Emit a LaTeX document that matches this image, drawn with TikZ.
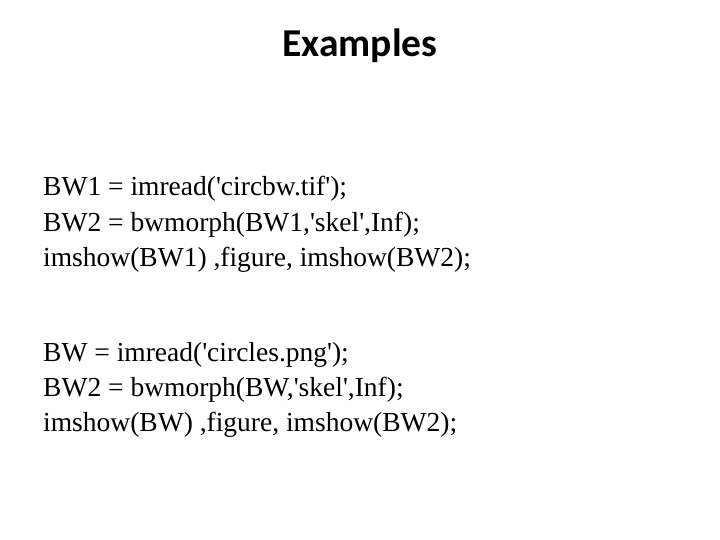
\documentclass[tikz,border=0pt]{standalone}
\usepackage{fontspec}
\setmainfont{Liberation Serif}
\newfontfamily\titlefont{Carlito}
\newcommand{\q}{\textquotesingle}
\begin{document}
\begin{tikzpicture}[x=1pt,y=-1pt,code/.style={anchor=base west,inner sep=0pt,font=\fontsize{27.5}{30}\selectfont}]
\useasboundingbox[fill=white] (0,0) rectangle (720,540);
\node[anchor=base,inner sep=0pt,font=\titlefont\bfseries\fontsize{39.5}{42}\selectfont] (t) at (360,57) {Examples};
\node[code] (a1) at (43,196) {BW1 = imread(\q circbw.tif\q);};
\node[code] (a2) at (43,231) {BW2 = bwmorph(BW1,\q skel\q,Inf);};
\node[code] (a3) at (43,266) {imshow(BW1) ,figure, imshow(BW2);};
\node[code] (b1) at (43,361) {BW = imread(\q circles.png\q);};
\node[code] (b2) at (43,396) {BW2 = bwmorph(BW,\q skel\q,Inf);};
\node[code] (b3) at (43,431) {imshow(BW) ,figure, imshow(BW2);};
\end{tikzpicture}
\end{document}
